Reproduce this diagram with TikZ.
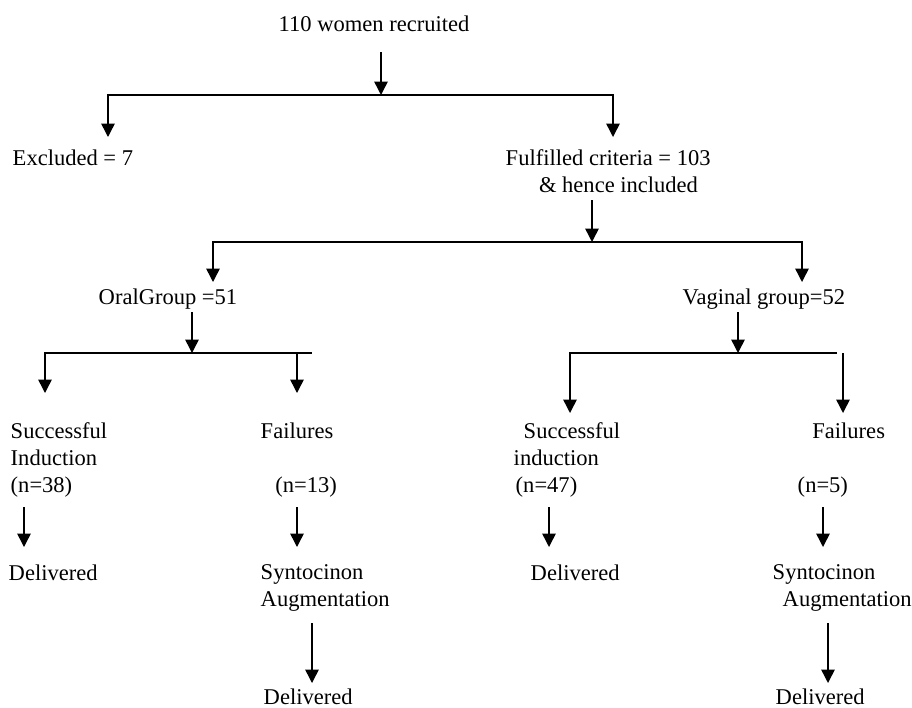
\documentclass[tikz,border=0pt]{standalone}
\usepackage{fontspec}
\setmainfont{Liberation Serif}
\usetikzlibrary{arrows.meta}
\begin{document}
\begin{tikzpicture}[x=0.75pt,y=-0.75pt,line width=1.1pt,
    font=\fontsize{16.9}{20}\selectfont,
    txt/.style={anchor=base west,inner sep=0pt,align=left},
    arr/.style={-{Triangle[length=10pt,width=10pt]}}]
  \useasboundingbox (0,0) rectangle (912,707);
  % labels, placed at the left end of their last base line
  \node[txt] (recruit) at (278,31) {110 women recruited};
  \node[txt] (excl) at (12,165) {Excluded = 7};
  \node[txt] (incl) at (505,192) {Fulfilled criteria = 103\\\hspace*{25pt}\& hence included};
  \node[txt] (oral) at (98,304) {OralGroup =51};
  \node[txt] (vag) at (682,304) {Vaginal group=52};
  \node[txt] (succA) at (10,492) {Successful\\Induction\\(n=38)};
  \node[txt] (failA) at (260,492) {Failures\\[20pt]\hspace*{11pt}(n=13)};
  \node[txt] (succB) at (513,492) {\hspace*{7.5pt}Successful\\induction\\\hspace*{1.5pt}(n=47)};
  \node[txt] (failB) at (797,492) {\hspace*{11pt}Failures\\[20pt](n=5)};
  \node[txt] (delA) at (8,580) {Delivered};
  \node[txt] (syntA) at (260,606) {Syntocinon\\Augmentation};
  \node[txt] (delB) at (530,580) {Delivered};
  \node[txt] (syntB) at (772,606) {Syntocinon\\\hspace*{7.5pt}Augmentation};
  \node[txt] (delC) at (263,704) {Delivered};
  \node[txt] (delD) at (775,704) {Delivered};
  % split points: stem top, bar, left and right arrow tips
  \foreach \s/\xs/\ys/\yb/\xl/\xr/\yt in {top/381/52/95/108/613/137, inc/592/200/242/213/802/282,
      ora/192/312/353/45/297/393, vag/738/312/353/570/843/413} {
    \coordinate (\s0) at (\xs,\ys);
    \coordinate (\s1) at (\xs,\yb);
    \coordinate (\s L) at (\xl,\yt);
    \coordinate (\s R) at (\xr,\yt);
    \draw[arr] (\s0) -- (\s1);
    \draw[arr] (\s1) -| (\s L);
  }
  \draw[arr] (top1) -| (topR);
  \draw[arr] (inc1) -| (incR);
  \draw (ora1) -- (312,353);
  \draw[arr] (297,353) -- (oraR);
  \draw (vag1) -- (837,353);
  \draw[arr] (843,353) -- (vagR);
  % single arrows down to the outcomes
  \foreach \a/\xa/\ya/\yb in {a/24/507/547, b/297/507/547, c/549/507/547, d/823/507/547,
      e/312/623/683, f/828/623/683} {
    \coordinate (\a0) at (\xa,\ya);
    \coordinate (\a1) at (\xa,\yb);
    \draw[arr] (\a0) -- (\a1);
  }
\end{tikzpicture}
\end{document}
